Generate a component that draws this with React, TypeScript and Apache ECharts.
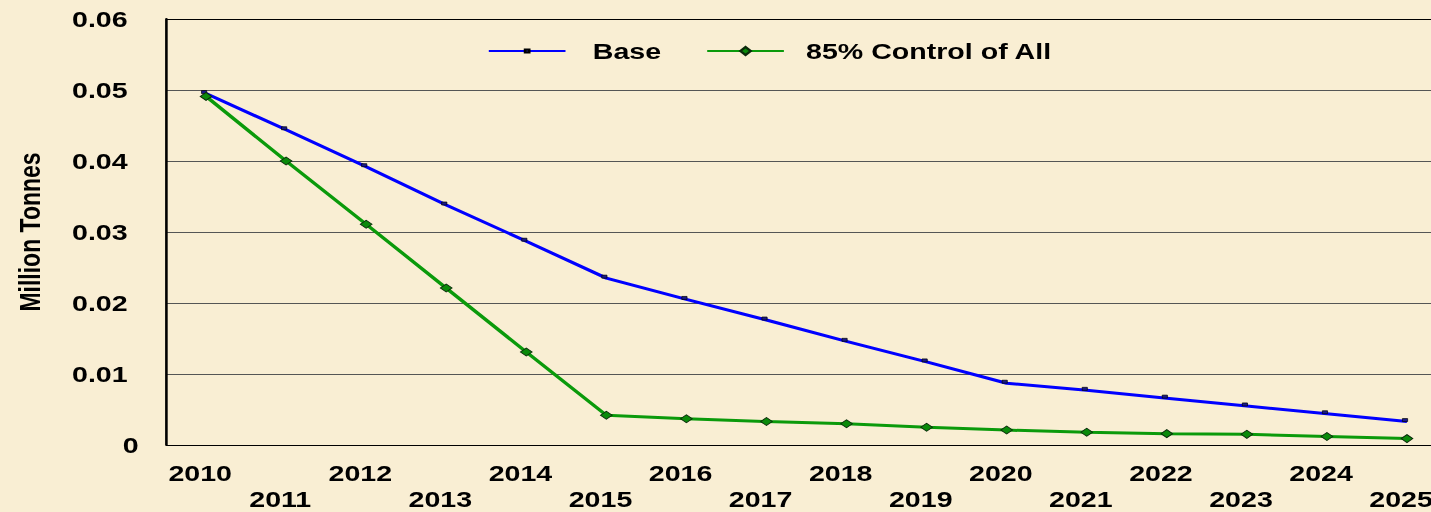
import React, { useEffect, useRef } from "react";
import * as echarts from "echarts";

const years = ["2010","2011","2012","2013","2014","2015","2016","2017","2018","2019","2020","2021","2022","2023","2024","2025"];
const baseValues = [0.0495,0.0444,0.0392,0.0338,0.0287,0.0235,0.0205,0.0176,0.0146,0.0117,0.0087,0.0077,0.0066,0.0055,0.0044,0.0033];
const controlValues = [0.0491,0.0400,0.0311,0.0221,0.0131,0.0042,0.0037,0.0033,0.0030,0.0025,0.0021,0.0018,0.0016,0.0015,0.0012,0.0009];
const yTicks = [0, 0.01, 0.02, 0.03, 0.04, 0.05, 0.06];
const seriesNames = ["Base", "85% Control of All"];

const S = 1.3;
const CW = 1120;
const FONT = 'Arial, "Liberation Sans", sans-serif';

export default function App() {
  const ref = useRef<HTMLDivElement>(null);
  useEffect(() => {
    document.body.style.margin = "0";
    const chart = echarts.init(ref.current!, null, { renderer: "svg" });
    const gridLeft = 166 / S;
    const gridWidth = 1281 / S;
    const legendFont = { fontFamily: FONT, fontWeight: "bold", fontSize: 22, color: "#000" };
    const labelFont = { fontFamily: FONT, fontWeight: "bold", fontSize: 22, color: "#000" };
    chart.setOption({
      animation: false,
      backgroundColor: "#F9EED3",
      grid: { left: gridLeft, width: gridWidth, top: 19, bottom: 65.5, containLabel: false },
      legend: [
        {
          left: 375,
          top: 40,
          padding: 0,
          itemWidth: 59,
          itemHeight: 4,
          selectedMode: false,
          textStyle: { ...legendFont, padding: [0, 0, 0, 16] },
          data: [seriesNames[0]],
        },
        {
          left: 543,
          top: 40,
          padding: 0,
          itemWidth: 59,
          itemHeight: 10,
          selectedMode: false,
          textStyle: { ...legendFont, padding: [0, 0, 0, 12] },
          data: [seriesNames[1]],
        },
      ],
      xAxis: {
        type: "category",
        data: years,
        boundaryGap: true,
        axisTick: { show: false },
        axisLine: { lineStyle: { color: "#000", width: 1.5, shadowColor: "#9a9a9a", shadowOffsetY: 3, shadowBlur: 0 } },
        axisLabel: {
          interval: 0,
          margin: 15,
          ...labelFont,
          lineHeight: 26,
          padding: [0, 9, 0, 0],
          formatter: (v: string, i: number) => (i % 2 === 1 ? "\n" + v : v),
        },
      },
      yAxis: {
        type: "value",
        min: yTicks[0],
        max: yTicks[yTicks.length - 1],
        interval: 0.01,
        name: "Million Tonnes",
        nameLocation: "middle",
        nameGap: 93,
        nameTextStyle: { fontFamily: FONT, fontWeight: "bold", fontSize: 23, color: "#000" },
        axisLine: { show: true, lineStyle: { color: "#000", width: 2 } },
        axisTick: { show: false },
        axisLabel: {
          margin: 21,
          ...labelFont,
          formatter: (v: number) => (v === 0 ? "{z|0}" : "{a|" + v.toFixed(2) + "}"),
          rich: {
            z: { ...labelFont },
            a: { ...labelFont, padding: [0, 8.5, 0, 0] },
          },
        },
        splitLine: {
          lineStyle: { color: ["#000", "#555", "#555", "#555", "#555", "#555", "#000"], width: 1 },
        },
      },
      series: [
        {
          name: seriesNames[0],
          type: "line",
          data: baseValues,
          symbol: "rect",
          symbolSize: [4, 3],
          symbolOffset: [-1.5, -1.5],
          itemStyle: { color: "#1a1a8a", borderColor: "#000", borderWidth: 0.6 },
          lineStyle: { color: "#0000FF", width: 3 },
          z: 2,
        },
        {
          name: seriesNames[1],
          type: "line",
          data: controlValues,
          symbol: "diamond",
          symbolSize: [9, 8],
          itemStyle: { color: "#0a8a0a", borderColor: "#0b2a0b", borderWidth: 0.8 },
          lineStyle: { color: "#0B9A0B", width: 3 },
          z: 3,
        },
      ],
    });
    return () => chart.dispose();
  }, []);
  return (
    <div style={{ position: "absolute", left: 0, top: 0, width: 1431, height: 512, overflow: "hidden", background: "#F9EED3" }}>
      <div ref={ref} style={{ width: CW, height: 512, transform: `scaleX(${S})`, transformOrigin: "0 0" }} />
    </div>
  );
}
